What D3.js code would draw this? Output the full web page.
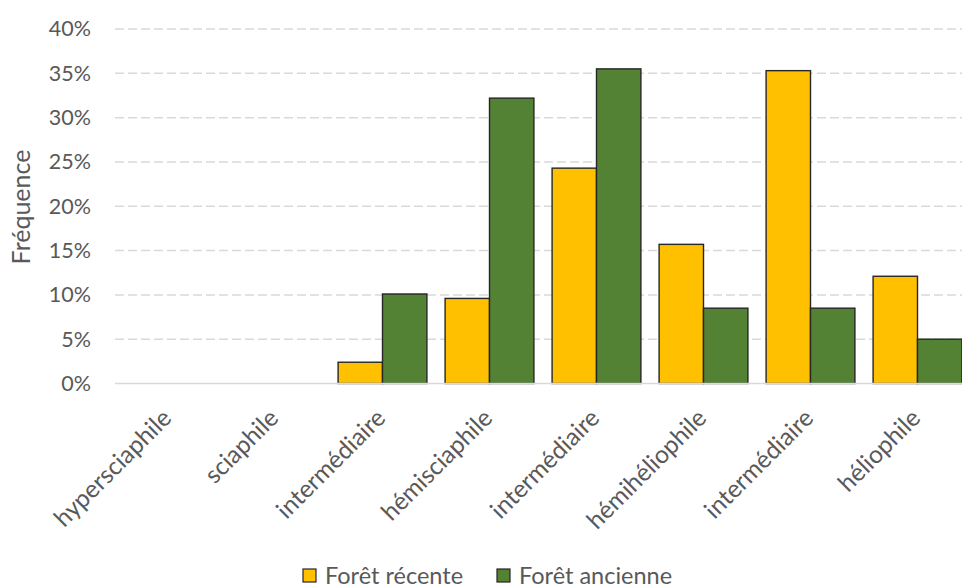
<!DOCTYPE html>
<html><head><meta charset="utf-8">
<script src="https://cdn.jsdelivr.net/npm/d3@7"></script>
<style>body{margin:0;background:#fff}svg{display:block}text{font-family:Lato,"Open Sans",sans-serif}</style>
</head><body><svg id="c" width="962" height="584"></svg>
<script>
const categories = ["hypersciaphile","sciaphile","intermédiaire","hémisciaphile","intermédiaire","hémihéliophile","intermédiaire","héliophile"];
const seriesNames = ["Forêt récente","Forêt ancienne"];
const recente = [0, 0, 2.4, 9.6, 24.3, 15.7, 35.3, 12.1];
const ancienne = [0, 0, 10.1, 32.2, 35.5, 8.5, 8.5, 5.0];
const yTicks = [0,5,10,15,20,25,30,35,40];
const colors = ["#FFC000","#548235"];

const svg = d3.select("#c");
const pL = 115, pR = 971, pT = 29, pB = 383.5;
const x = d3.scaleBand().domain(d3.range(categories.length)).range([pL, pR]).paddingInner(0.17).paddingOuter(0.085);
const xs = d3.scaleBand().domain([0,1]).range([0, x.bandwidth()]);
const y = d3.scaleLinear().domain([0,40]).range([pB, pT]);

// gridlines
svg.append("g").selectAll("line").data(yTicks.filter(d=>d>0)).join("line")
  .attr("x1", pL).attr("x2", 962).attr("y1", d=>y(d)).attr("y2", d=>y(d))
  .attr("stroke","#d9d9d9").attr("stroke-width",1.5).attr("stroke-dasharray","9,4");

// y axis labels
const yAxis = d3.axisLeft(y).tickValues(yTicks).tickFormat(d=>d+"%").tickSize(0).tickPadding(0);
const ga = svg.append("g").attr("transform",`translate(91,0)`).call(yAxis);
ga.select(".domain").remove();
ga.selectAll("text").attr("font-size",21.5).attr("fill","#595959").style("font-family","Lato,'Open Sans',sans-serif");

// bars
const data = [recente, ancienne];
const groups = svg.append("g").selectAll("g").data(categories.map((c,i)=>i)).join("g")
  .attr("transform", i=>`translate(${x(i)},0)`);
groups.selectAll("rect").data(i=>data.map((s,k)=>({k, v:s[i]})).filter(d=>d.v>0)).join("rect")
  .attr("x", d=>xs(d.k)).attr("width", xs.bandwidth())
  .attr("y", d=>y(d.v)).attr("height", d=>y(0)-y(d.v))
  .attr("fill", d=>colors[d.k]).attr("stroke","#262626").attr("stroke-width",1.4);

// x axis line
svg.append("line").attr("x1",pL).attr("x2",962).attr("y1",pB).attr("y2",pB)
  .attr("stroke","#d9d9d9").attr("stroke-width",1.5);

// x labels
svg.append("g").selectAll("text").data(categories).join("text")
  .attr("transform",(d,i)=>`translate(${x(i)+x.bandwidth()/2+4.5},${pB+36}) rotate(-45)`)
  .attr("text-anchor","end").attr("font-size",24.5).attr("fill","#595959").text(d=>d);

// y title
svg.append("text").attr("transform","translate(30,207) rotate(-90)").attr("text-anchor","middle")
  .attr("font-size",25).attr("fill","#595959").text("Fréquence");

// legend
const leg = [{x:303,tx:325},{x:497,tx:519}];
seriesNames.forEach((n,k)=>{
  svg.append("rect").attr("x",leg[k].x).attr("y",569).attr("width",13).attr("height",13)
    .attr("fill",colors[k]).attr("stroke","#262626").attr("stroke-width",1.2);
  svg.append("text").attr("x",leg[k].tx).attr("y",584).attr("font-size",23.5).attr("fill","#595959").text(n);
});
</script></body></html>
